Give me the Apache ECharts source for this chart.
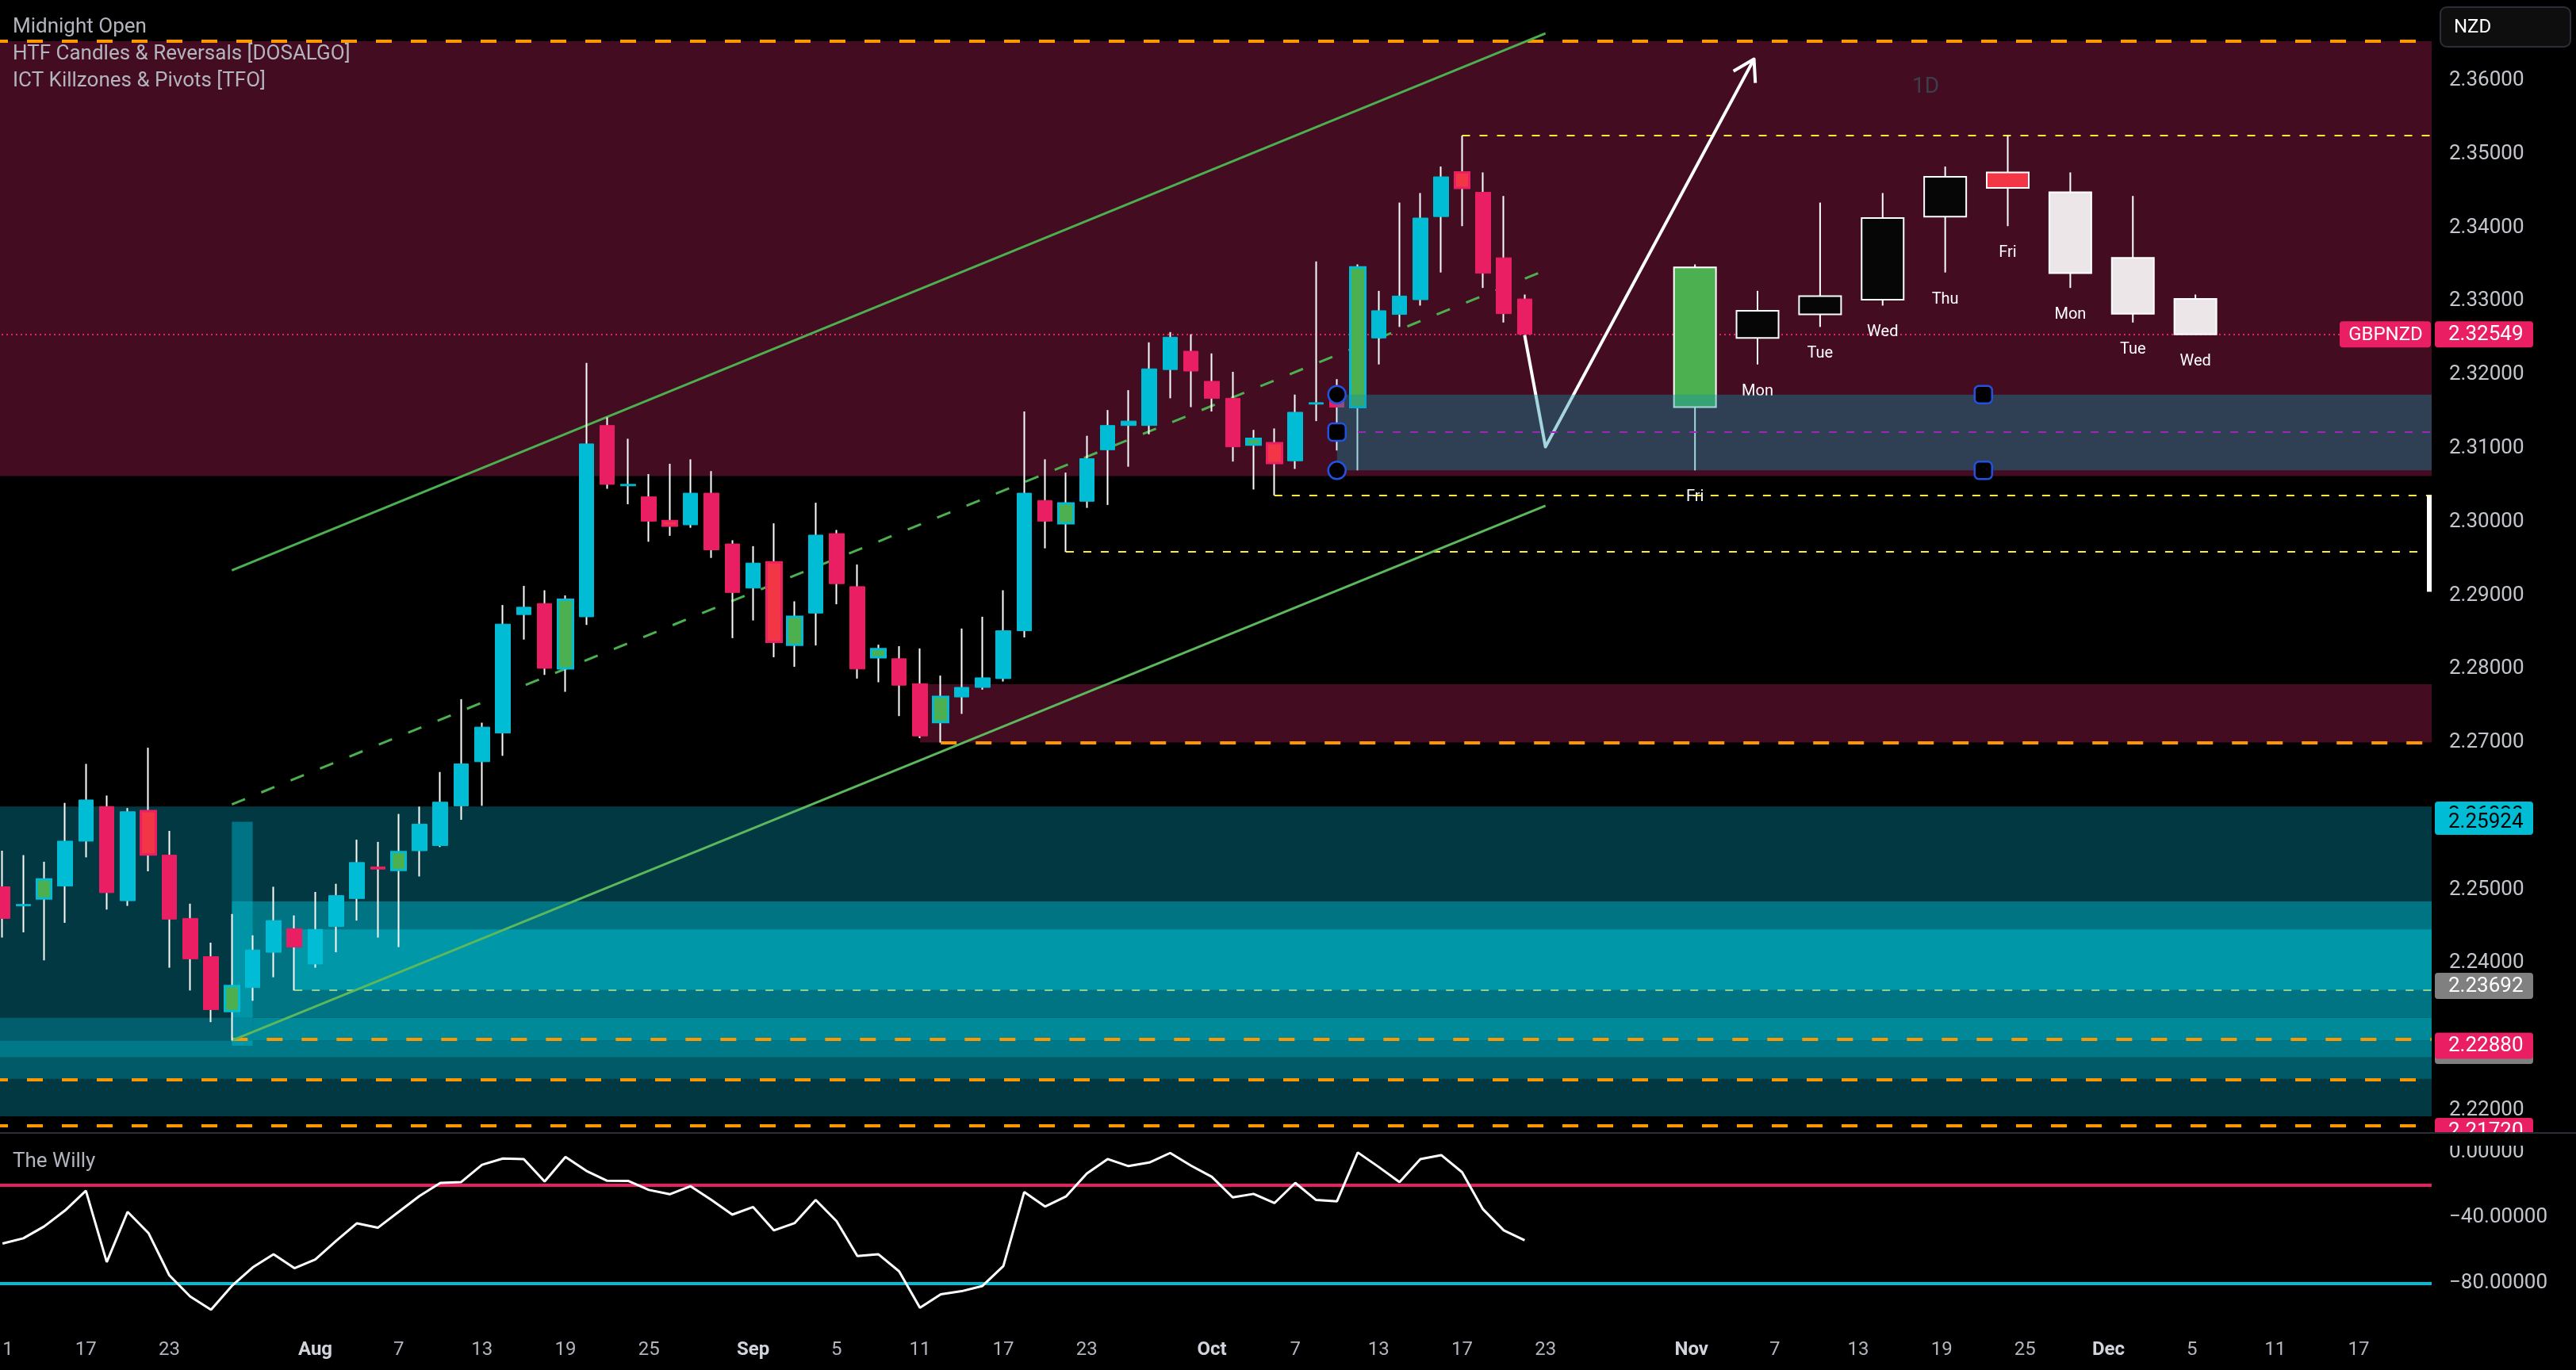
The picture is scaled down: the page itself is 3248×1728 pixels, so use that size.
<!DOCTYPE html>
<html>
<head>
<meta charset="utf-8">
<title>GBPNZD 1D</title>
<script src="https://cdn.jsdelivr.net/npm/echarts@6/dist/echarts.min.js"></script>
<style>
  html, body { margin: 0; padding: 0; background: #000; }
  #main { width: 3248px; height: 1728px; }
</style>
</head>
<body>
<div id="main"></div>
<script>
// ---- data (GBPNZD daily, from 11 Jul 2025) ----
var symbolName = 'GBPNZD';
var openPx  = [2.2504,2.2478,2.2488,2.2505,2.2566,2.2613,2.2485,2.2607,2.2547,2.2461,
               2.2409,2.2335,2.2367,2.2415,2.2447,2.2399,2.2450,2.2488,2.2531,2.2527,
               2.2553,2.2560,2.2614,2.2674,2.2713,2.2874,2.2889,2.2801,2.2871,2.3131,
               2.3049,2.3034,2.3001,2.2996,2.3039,2.2970,2.2910,2.2945,2.2833,2.2876,
               2.2984,2.2912,2.2816,2.2814,2.2780,2.2728,2.2762,2.2775,2.2787,2.2852,
               2.3029,2.2998,2.3028,2.3098,2.3131,2.3131,2.3207,2.3232,2.3191,2.3168,
               2.3105,2.3107,2.3083,2.3160,2.3172,2.3156,2.3250,2.3282,2.3302,2.3415,
               2.3475,2.3448,2.3359,2.3303];
var closePx = [2.2461,2.2480,2.2514,2.2566,2.2622,2.2496,2.2606,2.2548,2.2460,2.2406,
               2.2337,2.2369,2.2418,2.2458,2.2422,2.2446,2.2492,2.2537,2.2528,2.2551,
               2.2589,2.2619,2.2671,2.2721,2.2861,2.2884,2.2801,2.2894,2.3106,2.3051,
               2.3051,2.3001,2.2995,2.3039,2.2962,2.2904,2.2944,2.2837,2.2871,2.2982,
               2.2916,2.2800,2.2827,2.2778,2.2709,2.2762,2.2775,2.2788,2.2852,2.3039,
               2.3001,2.3025,2.3086,2.3131,2.3137,2.3208,2.3251,2.3205,2.3168,2.3102,
               2.3113,2.3080,2.3149,2.3162,2.3156,2.3346,2.3287,2.3307,2.3413,2.3469,
               2.3454,2.3338,2.3283,2.3255];
var highPx  = [2.2553,2.2547,2.2538,2.2618,2.2671,2.2628,2.2611,2.2693,2.2580,2.2481,
               2.2428,2.2467,2.2438,2.2504,2.2465,2.2497,2.2508,2.2568,2.2565,2.2603,
               2.2613,2.2660,2.2759,2.2727,2.2887,2.2913,2.2907,2.2900,2.3216,2.3142,
               2.3113,2.3065,2.3079,2.3085,2.3069,2.2975,2.2967,2.2998,2.2892,2.3026,
               2.2989,2.2942,2.2833,2.2831,2.2828,2.2791,2.2855,2.2871,2.2907,2.3150,
               2.3085,2.3067,2.3117,2.3152,2.3179,2.3244,2.3258,2.3255,2.3229,2.3204,
               2.3125,2.3127,2.3173,2.3354,2.3194,2.3350,2.3314,2.3434,2.3447,2.3483,
               2.3525,2.3475,2.3443,2.3309];
var lowPx   = [2.2435,2.2442,2.2404,2.2455,2.2544,2.2473,2.2478,2.2525,2.2394,2.2363,
               2.2320,2.2295,2.2349,2.2381,2.2363,2.2394,2.2415,2.2458,2.2435,2.2422,
               2.2518,2.2558,2.2595,2.2614,2.2682,2.2840,2.2792,2.2769,2.2860,2.3045,
               2.3024,2.2973,2.2981,2.2992,2.2951,2.2842,2.2866,2.2816,2.2803,2.2832,
               2.2888,2.2787,2.2782,2.2736,2.2706,2.2700,2.2739,2.2772,2.2783,2.2843,
               2.2964,2.2959,2.3019,2.3023,2.3075,2.3119,2.3168,2.3156,2.3150,2.3082,
               2.3044,2.3036,2.3072,2.3137,2.3097,2.3070,2.3214,2.3265,2.3294,2.3339,
               2.3402,2.3318,2.3271,2.3255];
var reversalUp   = [2, 11, 19, 27, 38, 42, 45, 51, 60, 65];
var reversalDown = [7, 32, 37, 61, 70];

// The Willy (Williams %R style oscillator)
var willy = [-55.7,-52.5,-45.3,-35.6,-23.6,-67.0,-36.4,-49.3,-75.0,-87.9,
             -96.0,-81.5,-70.2,-62.2,-70.7,-65.4,-54.1,-43.4,-46.1,-36.4,
             -26.8,-18.8,-18.3,-7.8,-4.0,-4.3,-18.0,-3.0,-11.5,-17.5,
             -17.6,-23.1,-25.7,-20.8,-29.2,-38.1,-33.5,-47.7,-43.2,-29.2,
             -42.1,-63.3,-62.2,-72.6,-94.8,-86.6,-84.7,-81.5,-69.4,-24.4,
             -33.2,-27.1,-13.1,-4.3,-8.6,-6.4,-0.6,-8.3,-15.1,-27.6,
             -25.5,-31.1,-18.8,-29.2,-30.0,-0.3,-9.1,-18.3,-4.3,-1.9,
             -12.3,-34.8,-47.7,-53.7];
var willyLevels = [-20, -80];
var willyTicks = [0, -40, -80];

var priceTicks = [2.36, 2.35, 2.34, 2.33, 2.32, 2.31, 2.30, 2.29, 2.28, 2.27, 2.25, 2.24, 2.22];
var dateLabels = {
  '2025-07-11': '11', '2025-07-17': '17', '2025-07-23': '23',
  '2025-08-01': 'Aug', '2025-08-07': '7', '2025-08-13': '13', '2025-08-19': '19', '2025-08-25': '25',
  '2025-09-01': 'Sep', '2025-09-05': '5', '2025-09-11': '11', '2025-09-17': '17', '2025-09-23': '23',
  '2025-10-01': 'Oct', '2025-10-07': '7', '2025-10-13': '13', '2025-10-17': '17', '2025-10-23': '23',
  '2025-11-03': 'Nov', '2025-11-07': '7', '2025-11-13': '13', '2025-11-19': '19', '2025-11-25': '25',
  '2025-12-01': 'Dec', '2025-12-05': '5', '2025-12-11': '11', '2025-12-17': '17'
};
var monthNames = ['Aug', 'Sep', 'Oct', 'Nov', 'Dec'];

// zones: [fromIndex, toIndex, low, high]   (-1 = chart edge)
var zoneBands = [
  [-1, -1, 2.30623, 2.36533],
  [44, -1, 2.2700, 2.27793],
  [-1, -1, 2.2192, 2.2613],
  [11, -1, 2.2326, 2.2484],
  [14, -1, 2.2364, 2.2446],
  [-1, -1, 2.2295, 2.2326],
  [12, -1, 2.2295, 2.2326],
  [-1, -1, 2.2272, 2.2295],
  [-1, -1, 2.2243, 2.2272],
  [11, 12, 2.2288, 2.25924]
];
// horizontal levels: [fromIndex, price]
var levelLines = [
  [-1, 2.36533], [45, 2.2700], [11, 2.2296], [-1, 2.2242], [-1, 2.2179],
  [70, 2.3525], [61, 2.3036], [51, 2.2959],
  [14, 2.2363],
  [-1, 2.32549]
];
var levelKinds = ['htf', 'htf', 'htf', 'htf', 'htf', 'pivot', 'pivot', 'pivot', 'low', 'last'];

// trend channel
var channelUpper = [[11, 2.2934], [74, 2.3664]];
var channelMid   = [[11, 2.2616], [74, 2.3342]];
var channelLower = [[11, 2.2295], [74, 2.3022]];

// imbalance box [fromIndex, low, high], mid level, markers
var fvgBox = [64, 2.3070, 2.3173];
var fvgMid = [65, 2.3122];
var markerX = [64, 64, 64, 95, 95];
var markerY = [2.3173, 2.3122, 2.3070, 2.3173, 2.3070];

var arrowPath = [[73, 2.3254], [74, 2.3102], [84, 2.3629]];

// HTF (1D) candles: last 9 bars projected to the right
var htfCount = 9, htfAnchor = 81, htfStep = 3;

var priceTags = [2.26020, 2.25924, 2.23692, 2.22810, 2.22880, 2.21720, 2.32549];
var tagKinds  = ['cyan', 'cyan', 'gray', 'gray', 'pink', 'pink', 'last'];
var rangeBar = [2.2905, 2.3036];

// ---- categories: weekdays ----
var dates = [];
(function () {
  var d = new Date(Date.UTC(2025, 6, 11));
  while (dates.length < 117) {
    var wd = d.getUTCDay();
    if (wd !== 0 && wd !== 6) dates.push(d.toISOString().slice(0, 10));
    d.setUTCDate(d.getUTCDate() + 1);
  }
})();
var dayNames = ['Sun', 'Mon', 'Tue', 'Wed', 'Thu', 'Fri', 'Sat'];

// ---- styles ----
var FONT = 'Roboto, "DejaVu Sans", sans-serif';
var UP = '#00bcd4', DOWN = '#e91e63';
var zoneColors = ['#430c20', '#430c20', '#013842', '#007482', '#0097a8', '#025e6c',
                  '#008998', '#007888', '#015a68', 'rgba(0,188,212,0.45)'];
var levelStyle = {
  htf:   { color: '#ff9800', width: 4, dash: [20, 24] },
  pivot: { color: '#ffeb3b', width: 2, dash: [10, 12] },
  low:   { color: '#8fd18f', width: 2, dash: [10, 12] },
  last:  { color: '#e91e63', width: 2, dash: [2, 4] }
};
var tagStyle = {
  cyan: { bg: '#00bcd4', fg: '#000000' },
  gray: { bg: '#808080', fg: '#ffffff' },
  pink: { bg: '#e91e63', fg: '#ffffff' },
  last: { bg: '#e91e63', fg: '#ffffff' }
};

var nBars = openPx.length;
var ohlc = openPx.map(function (o, i) { return [o, closePx[i], lowPx[i], highPx[i]]; });
var bodies = openPx.map(function (o, i) {
  var c = closePx[i];
  var item = { value: [o, c, Math.min(o, c), Math.max(o, c)] };
  if (reversalUp.indexOf(i) >= 0) {
    item.itemStyle = { color: '#4caf50', color0: '#4caf50', borderColor: UP, borderColor0: UP, borderWidth: 3 };
  } else if (reversalDown.indexOf(i) >= 0) {
    item.itemStyle = { color: '#f23645', color0: '#f23645', borderColor: DOWN, borderColor0: DOWN, borderWidth: 3 };
  }
  return item;
});

function gridRight(cs) { return cs.x + cs.width; }

var chart = echarts.init(document.getElementById('main'));

var option = {
  backgroundColor: '#000000',
  animation: false,
  textStyle: { fontFamily: FONT },
  grid: [
    { left: -10, top: 0, width: 3076, height: 1428, outerBoundsMode: 'none' },
    { left: -10, top: 1430, width: 3076, height: 250, outerBoundsMode: 'none' }
  ],
  xAxis: [
    { type: 'category', gridIndex: 0, data: dates, boundaryGap: true, show: false },
    {
      type: 'category', gridIndex: 1, data: dates, boundaryGap: true,
      axisLine: { show: false }, axisTick: { show: false }, splitLine: { show: false },
      axisLabel: {
        interval: function (idx, val) { return !!dateLabels[val]; },
        margin: 11, color: '#b2b5be', fontSize: 24, fontFamily: FONT,
        formatter: function (val) {
          var t = dateLabels[val];
          if (!t) return '';
          return monthNames.indexOf(t) >= 0 ? '{m|' + t + '}' : t;
        },
        rich: { m: { fontWeight: 'bold', color: '#d1d4dc', fontSize: 24, fontFamily: FONT } }
      }
    }
  ],
  yAxis: [
    {
      type: 'value', gridIndex: 0, position: 'right', min: 2.217043, max: 2.370939,
      axisLine: { show: false }, axisTick: { show: false }, splitLine: { show: false },
      axisLabel: {
        customValues: priceTicks, margin: 22, color: '#c3c6cc', fontSize: 26, fontFamily: FONT,
        formatter: function (v) { return v.toFixed(5); }
      }
    },
    {
      type: 'value', gridIndex: 1, position: 'right', min: -109.5, max: 11.1,
      axisLine: { show: false }, axisTick: { show: false }, splitLine: { show: false },
      axisLabel: {
        customValues: willyTicks, margin: 22, color: '#c3c6cc', fontSize: 26, fontFamily: FONT,
        formatter: function (v) { return (v < 0 ? '\u2212' : '') + Math.abs(v).toFixed(5); }
      }
    }
  ],
  graphic: [
    { type: 'text', left: 16, top: 21, z: 100, style: { text: 'Midnight Open', fill: '#b2b5be', font: '26px ' + FONT } },
    { type: 'text', left: 16, top: 55, z: 100, style: { text: 'HTF Candles & Reversals [DOSALGO]', fill: '#b2b5be', font: '26px ' + FONT } },
    { type: 'text', left: 16, top: 89, z: 100, style: { text: 'ICT Killzones & Pivots [TFO]', fill: '#b2b5be', font: '26px ' + FONT } },
    { type: 'text', left: 16, top: 1452, z: 100, style: { text: 'The Willy', fill: '#b2b5be', font: '26px ' + FONT } },
    { type: 'text', left: 2411, top: 96, z: 100, style: { text: '1D', fill: '#3b3f4c', font: '28px ' + FONT } },
    { type: 'rect', left: 0, top: 1428, z: 100, shape: { width: 3248, height: 2 }, style: { fill: '#2a2e39' } },
    { type: 'rect', left: 3076, top: 8, z: 100, shape: { width: 164, height: 50, r: 8 }, style: { fill: '#0e0e0e', stroke: '#2a2e39', lineWidth: 2 } },
    { type: 'text', left: 3094, top: 23, z: 101, style: { text: 'NZD', fill: '#ffffff', font: '24px ' + FONT } }
  ],
  series: [
    {
      type: 'custom', name: 'zones', xAxisIndex: 0, yAxisIndex: 0, z: 1, silent: true,
      data: zoneBands.map(function (b) { return [Math.max(b[0], 0), b[2]]; }),
      renderItem: function (params, api) {
        var b = zoneBands[params.dataIndex], cs = params.coordSys;
        var x0 = b[0] < 0 ? cs.x : api.coord([b[0], b[2]])[0];
        var x1 = b[1] < 0 ? gridRight(cs) : api.coord([b[1], b[2]])[0];
        var y0 = api.coord([0, b[3]])[1], y1 = api.coord([0, b[2]])[1];
        return { type: 'rect', shape: { x: x0, y: y0, width: x1 - x0, height: y1 - y0 }, style: { fill: zoneColors[params.dataIndex] } };
      }
    },
    {
      type: 'custom', name: 'levels', xAxisIndex: 0, yAxisIndex: 0, z: 2, silent: true,
      data: levelLines.map(function (l) { return [Math.max(l[0], 0), l[1]]; }),
      renderItem: function (params, api) {
        var l = levelLines[params.dataIndex], cs = params.coordSys;
        var st = levelStyle[levelKinds[params.dataIndex]];
        var x0 = l[0] < 0 ? cs.x : api.coord([l[0], l[1]])[0];
        var y = Math.round(api.coord([0, l[1]])[1]);
        return { type: 'line', shape: { x1: x0, y1: y, x2: gridRight(cs), y2: y },
                 style: { stroke: st.color, lineWidth: st.width, lineDash: st.dash } };
      }
    },
    { type: 'line', name: 'chanUp', xAxisIndex: 0, yAxisIndex: 0, z: 3, data: channelUpper, showSymbol: false, silent: true,
      lineStyle: { color: '#4caf50', width: 3 } },
    { type: 'line', name: 'chanMid', xAxisIndex: 0, yAxisIndex: 0, z: 3, data: channelMid, showSymbol: false, silent: true,
      lineStyle: { color: '#4caf50', width: 3, type: [18, 22] } },
    { type: 'line', name: 'chanLow', xAxisIndex: 0, yAxisIndex: 0, z: 3, data: channelLower, showSymbol: false, silent: true,
      lineStyle: { color: '#5cb85c', width: 3 } },
    {
      type: 'candlestick', name: 'wicks', xAxisIndex: 0, yAxisIndex: 0, z: 4, silent: true,
      data: ohlc, barWidth: 1,
      itemStyle: { color: '#ffffff', color0: '#ffffff', borderColor: '#ffffff', borderColor0: '#ffffff', borderWidth: 2 }
    },
    {
      type: 'candlestick', name: symbolName, xAxisIndex: 0, yAxisIndex: 0, z: 5, silent: true,
      data: bodies, barWidth: 19,
      itemStyle: { color: UP, color0: DOWN, borderColor: UP, borderColor0: DOWN, borderWidth: 1 }
    },
    {
      type: 'custom', name: 'htf', xAxisIndex: 0, yAxisIndex: 0, z: 5, silent: true,
      data: closePx.slice(nBars - htfCount).map(function (c, k) { return [htfAnchor + htfStep * k, c]; }),
      renderItem: function (params, api) {
        var k = params.dataIndex, i = nBars - htfCount + k;
        var band = api.size([1, 0])[0];
        var cx = api.coord([htfAnchor + htfStep * k, closePx[i]])[0] + 0.17 * band;
        var yO = api.coord([0, openPx[i]])[1], yC = api.coord([0, closePx[i]])[1];
        var yH = api.coord([0, highPx[i]])[1], yL = api.coord([0, lowPx[i]])[1];
        var up = closePx[i] >= openPx[i];
        var fill = up ? '#060606' : '#ece6e9';
        if (reversalUp.indexOf(i) >= 0) fill = '#4caf50';
        if (reversalDown.indexOf(i) >= 0) fill = '#f23645';
        var w = 53;
        var day = dayNames[new Date(dates[i] + 'T00:00:00Z').getUTCDay()];
        return {
          type: 'group', children: [
            { type: 'line', shape: { x1: cx, y1: yH, x2: cx, y2: yL }, style: { stroke: '#ffffff', lineWidth: 2 } },
            { type: 'rect', shape: { x: cx - w / 2, y: Math.min(yO, yC), width: w, height: Math.max(Math.abs(yO - yC), 2) },
              style: { fill: fill, stroke: '#ffffff', lineWidth: 2 } },
            { type: 'text', style: { x: cx, y: yL + 34, text: day, fill: '#ffffff', font: '20px ' + FONT, align: 'center', verticalAlign: 'middle' } }
          ]
        };
      }
    },
    {
      type: 'custom', name: 'path', xAxisIndex: 0, yAxisIndex: 0, z: 7, silent: true,
      data: arrowPath,
      renderItem: function (params, api) {
        if (params.dataIndex !== 0) return null;
        var pts = arrowPath.map(function (p) { return api.coord(p); });
        var a = pts[pts.length - 2], b = pts[pts.length - 1];
        var dx = b[0] - a[0], dy = b[1] - a[1], len = Math.sqrt(dx * dx + dy * dy);
        var bx = -dx / len, by = -dy / len, L = 30, ang = 0.55;
        function wing(s) {
          var c = Math.cos(s * ang), sn = Math.sin(s * ang);
          return [b[0] + L * (bx * c - by * sn), b[1] + L * (bx * sn + by * c)];
        }
        return {
          type: 'group', children: [
            { type: 'polyline', shape: { points: pts }, style: { stroke: '#ffffff', lineWidth: 4, fill: null, lineJoin: 'round' } },
            { type: 'polyline', shape: { points: [wing(1), b, wing(-1)] }, style: { stroke: '#ffffff', lineWidth: 4, fill: null, lineJoin: 'round' } }
          ]
        };
      }
    },
    {
      type: 'custom', name: 'fvg', xAxisIndex: 0, yAxisIndex: 0, z: 8, silent: true,
      data: [[fvgBox[0], fvgBox[1]]],
      renderItem: function (params, api) {
        var cs = params.coordSys;
        var x0 = api.coord([fvgBox[0], fvgBox[1]])[0];
        var y0 = api.coord([0, fvgBox[2]])[1], y1 = api.coord([0, fvgBox[1]])[1];
        var xm = api.coord([fvgMid[0], fvgMid[1]])[0], ym = Math.round(api.coord([0, fvgMid[1]])[1]);
        return {
          type: 'group', children: [
            { type: 'rect', shape: { x: x0, y: y0, width: gridRight(cs) - x0, height: y1 - y0 }, style: { fill: 'rgba(15,146,172,0.38)' } },
            { type: 'line', shape: { x1: xm, y1: ym, x2: gridRight(cs), y2: ym }, style: { stroke: '#9c27b0', lineWidth: 2, lineDash: [10, 12] } }
          ]
        };
      }
    },
    {
      type: 'scatter', name: 'markers', xAxisIndex: 0, yAxisIndex: 0, z: 9, silent: true,
      symbolSize: 22,
      itemStyle: { color: '#000000', borderColor: '#2352e0', borderWidth: 2.5, opacity: 1 },
      data: markerX.map(function (x, i) {
        return { value: [x, markerY[i]], symbol: (i === 0 || i === 2) ? 'circle' : 'roundRect' };
      })
    },
    {
      type: 'custom', name: 'rangeBar', xAxisIndex: 0, yAxisIndex: 0, z: 9, silent: true,
      data: [[0, rangeBar[0]]],
      renderItem: function (params, api) {
        var cs = params.coordSys;
        var y0 = api.coord([0, rangeBar[1]])[1], y1 = api.coord([0, rangeBar[0]])[1];
        return { type: 'rect', shape: { x: gridRight(cs) - 6, y: y0, width: 6, height: y1 - y0 }, style: { fill: '#ffffff' } };
      }
    },
    {
      type: 'custom', name: 'tags', xAxisIndex: 0, yAxisIndex: 0, z: 10, silent: true,
      data: priceTags.map(function (p) { return [0, p]; }),
      renderItem: function (params, api) {
        var p = priceTags[params.dataIndex], kind = tagKinds[params.dataIndex], st = tagStyle[kind];
        var cs = params.coordSys, right = gridRight(cs), bottom = cs.y + cs.height;
        var y = api.coord([0, p])[1], h = 33, top = y - h / 2;
        var ch = [
          { type: 'rect', shape: { x: right + 4, y: top, width: 124, height: h, r: 4 }, style: { fill: st.bg } },
          { type: 'text', style: { x: right + 21, y: y + 1, text: p.toFixed(5), fill: st.fg, font: '26px ' + FONT, verticalAlign: 'middle' } }
        ];
        if (kind === 'last') {
          ch.push({ type: 'rect', shape: { x: right - 116, y: top, width: 115, height: h, r: 4 }, style: { fill: st.bg } });
          ch.push({ type: 'text', style: { x: right - 58, y: y + 1, text: symbolName, fill: st.fg, font: '24px ' + FONT, align: 'center', verticalAlign: 'middle' } });
        }
        if (top + h > bottom) {
          ch.push({ type: 'rect', shape: { x: right + 2, y: bottom, width: 130, height: top + h - bottom + 2 }, style: { fill: '#000000' } });
        }
        return { type: 'group', children: ch };
      }
    },
    {
      type: 'line', name: 'The Willy', xAxisIndex: 1, yAxisIndex: 1, z: 5, data: willy,
      showSymbol: false, silent: true,
      lineStyle: { color: '#ffffff', width: 3 },
      markLine: {
        silent: true, symbol: 'none', label: { show: false },
        data: [
          { yAxis: willyLevels[0], lineStyle: { color: '#e91e63', width: 4, type: 'solid' } },
          { yAxis: willyLevels[1], lineStyle: { color: '#00bcd4', width: 4, type: 'solid' } }
        ]
      }
    }
  ]
};

chart.setOption(option);
</script>
</body>
</html>
